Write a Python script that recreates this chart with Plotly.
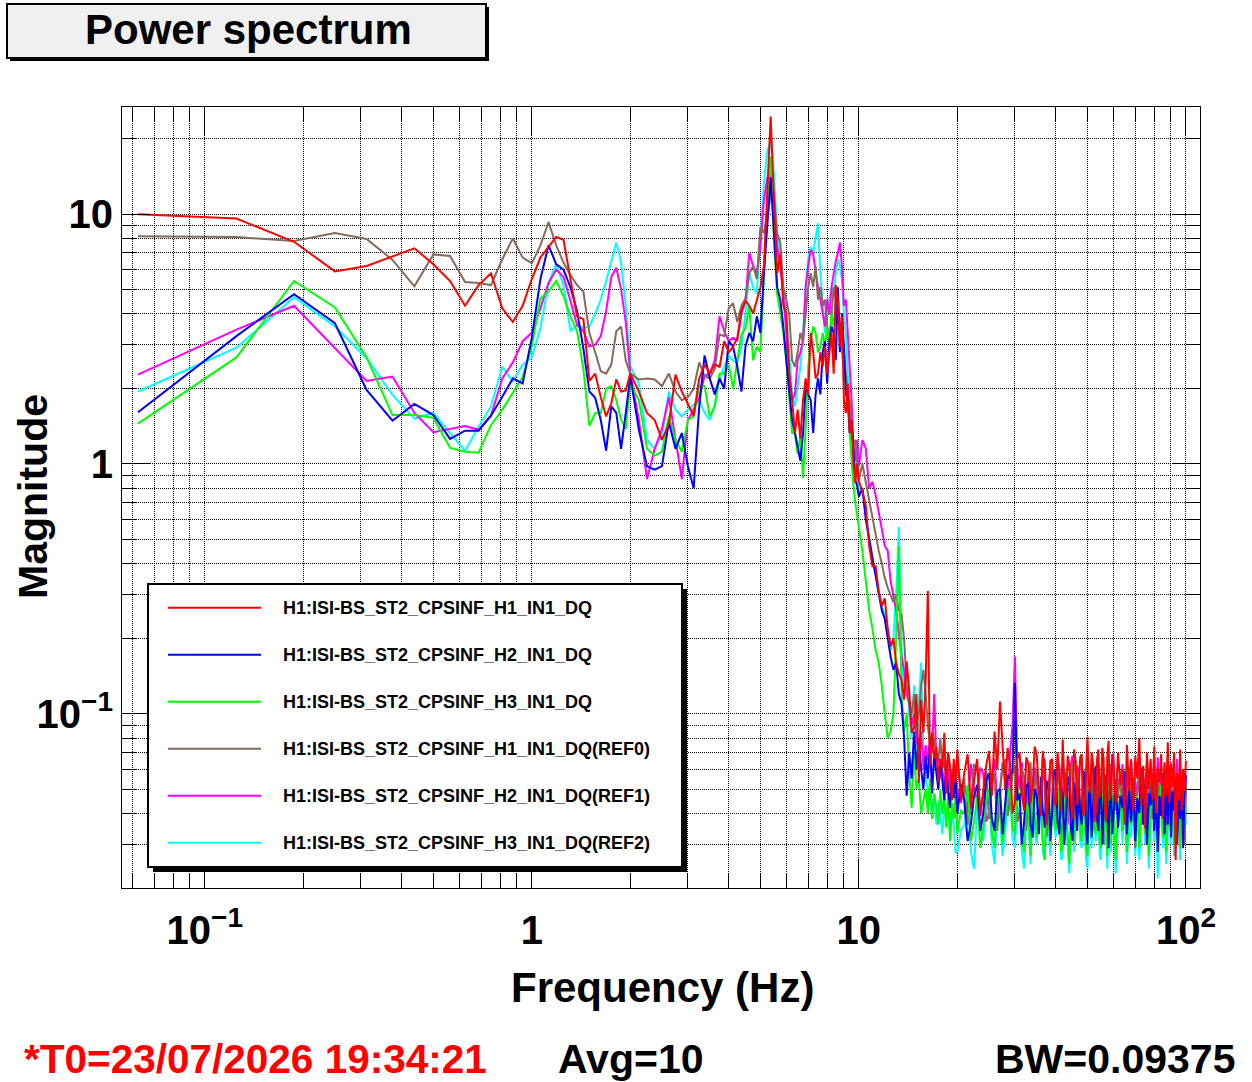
import plotly.graph_objects as go

# --- frequency bins (Hz) ---
FREQ_HZ = [
    0.0625, 0.125, 0.1875, 0.25, 0.3125, 0.375, 0.4375, 0.5, 0.5625, 0.625, 0.6875, 0.75,
    0.8125, 0.875, 0.9375, 1.0, 1.0625, 1.125, 1.1875, 1.25, 1.3125, 1.375, 1.4375, 1.5,
    1.5625, 1.625, 1.6875, 1.75, 1.8125, 1.875, 1.9375, 2.0,
    2.125, 2.25, 2.375, 2.5, 2.625, 2.75, 2.875, 3.0, 3.125, 3.25, 3.375, 3.5, 3.625, 3.75,
    3.875, 4.0, 4.125, 4.25, 4.375, 4.5,
    4.625, 4.75, 4.875, 5.0, 5.125, 5.25, 5.375, 5.5, 5.625, 5.75, 5.875, 6.0, 6.125, 6.25,
    6.375, 6.5, 6.625, 6.75, 6.875, 7.0, 7.125, 7.25, 7.375, 7.5, 7.625, 7.75, 7.875, 8.0,
    8.125, 8.25, 8.375, 8.5, 8.625, 8.75, 8.875, 9.0, 9.125, 9.25, 9.375, 9.5, 9.625, 9.75,
    9.875, 10.0,
    10.25, 10.5, 10.75, 11.0, 11.25, 11.5, 11.75, 12.0, 12.25, 12.5, 12.75, 13.0, 13.25, 13.5,
    13.75, 14.0, 14.25, 14.5, 14.75, 15.0, 15.25, 15.5, 15.75, 16.0, 16.25, 16.5, 16.75, 17.0,
    17.25, 17.5, 17.75, 18.0, 18.25, 18.5, 18.75, 19.0, 19.25, 19.5, 19.75, 20.0,
    20.5, 21, 21.5, 22, 22.5, 23, 23.5, 24, 24.5, 25, 25.5, 26, 26.5, 27, 27.5, 28, 28.5, 29,
    29.5, 30, 30.5, 31, 31.5, 32, 32.5, 33, 33.5, 34, 34.5, 35, 35.5, 36, 36.5, 37, 37.5, 38,
    38.5, 39, 39.5, 40, 40.5, 41, 41.5, 42, 42.5, 43, 43.5, 44, 44.5, 45, 45.5, 46, 46.5, 47,
    47.5, 48, 48.5, 49, 49.5, 50, 50.5, 51, 51.5, 52, 52.5, 53, 53.5, 54, 54.5, 55, 55.5, 56,
    56.5, 57, 57.5, 58, 58.5, 59, 59.5, 60,
    61, 62, 63, 64, 65, 66, 67, 68, 69, 70, 71, 72, 73, 74, 75, 76, 77, 78, 79, 80,
    81, 82, 83, 84, 85, 86, 87, 88, 89, 90, 91, 92, 93, 94, 95, 96, 97, 98, 99, 100,
]

# --- magnitudes ---
H1 = [
    10.0, 9.6, 7.75, 5.9, 6.2, 6.75, 7.3, 6.3, 5.4, 4.3, 5.2, 5.8, 4.2, 3.7, 4.3, 5.5,
    6.7, 7.4, 8.1, 7.9, 5.5, 3.9, 3.8, 2.15, 2.3, 1.85, 1.55, 1.75, 2.18, 1.95, 1.97, 2.3,
    1.95, 1.6, 1.5, 1.25, 1.45, 2.28, 1.95, 1.75, 1.56, 2.2, 2.5, 2.3, 2.5, 2.45, 3.1, 2.8,
    2.95, 3.2, 4.1, 4.5,
    4.3, 4.0, 4.55, 5.1, 6.2, 13.3, 24.6, 11.4, 5.8, 6.9, 4.3, 4.0, 2.3, 1.8, 1.33, 1.65,
    1.26, 1.8, 2.2, 1.9, 3.35, 2.8, 2.2, 2.3, 2.8, 2.45, 2.95, 2.3, 2.8, 3.35, 2.3, 5.2,
    4.5, 2.95, 3.9, 1.8, 1.6, 2.1, 1.33, 1.5, 1.0, 0.84, 1.0, 0.85,
    0.78, 0.68, 0.47, 0.39, 0.39, 0.31, 0.27, 0.29, 0.22, 0.186, 0.2, 0.16, 0.145, 0.137,
    0.114, 0.162, 0.125, 0.084, 0.088, 0.12, 0.053, 0.114, 0.084, 0.135, 0.31, 0.062, 0.084,
    0.066, 0.074, 0.053, 0.066, 0.061, 0.084, 0.048, 0.07, 0.061, 0.045, 0.066, 0.053, 0.072,
    0.045, 0.058, 0.069, 0.042, 0.054, 0.066, 0.039, 0.048, 0.062, 0.071, 0.047, 0.085,
    0.06, 0.112, 0.07, 0.05, 0.073, 0.062, 0.04, 0.044, 0.066, 0.07, 0.048, 0.041, 0.067,
    0.063, 0.044, 0.052, 0.074, 0.068, 0.049, 0.039, 0.071, 0.06, 0.036, 0.047, 0.065,
    0.066, 0.045, 0.043, 0.07, 0.058, 0.041, 0.079, 0.052, 0.046, 0.068, 0.062, 0.044,
    0.038, 0.072, 0.065, 0.043, 0.05, 0.067, 0.069, 0.039, 0.042, 0.064, 0.081, 0.053,
    0.048, 0.07, 0.063, 0.037, 0.04, 0.066, 0.072, 0.046, 0.051, 0.073, 0.066, 0.042,
    0.037, 0.068, 0.078, 0.045, 0.047, 0.069, 0.064,
    0.044, 0.07, 0.052, 0.06, 0.036, 0.075, 0.049, 0.065, 0.041, 0.068, 0.055, 0.08,
    0.043, 0.062, 0.035, 0.07, 0.05, 0.066, 0.045, 0.074, 0.04, 0.061, 0.053, 0.069,
    0.038, 0.064, 0.047, 0.077, 0.044, 0.063, 0.051, 0.07, 0.026, 0.058, 0.045, 0.072,
    0.041, 0.06, 0.049, 0.065,
]

H2 = [
    1.61, 3.25, 4.78, 3.66, 1.98, 1.49, 1.74, 1.57, 1.26, 1.36, 1.36, 1.56, 1.86, 2.2, 2.1,
    3.2, 5.5, 7.5, 6.3, 6.0, 5.1, 4.1, 2.9, 1.95, 1.84, 1.5, 1.13, 1.7, 1.6, 1.15, 1.6, 2.25,
    1.37, 0.98, 0.95, 0.98, 1.47, 1.15, 1.33, 0.98, 0.8, 1.7, 2.72, 2.2, 1.9, 2.2, 2.0, 3.1,
    2.95, 2.45, 1.95, 2.95,
    3.35, 3.1, 3.9, 3.35, 5.8, 8.9, 14.0, 8.4, 5.1, 4.55, 3.55, 2.6, 1.9, 1.5, 1.33, 1.17,
    1.03, 1.33, 2.05, 1.9, 1.8, 1.33, 1.9, 2.2, 1.9, 2.8, 3.1, 2.1, 3.1, 3.55, 3.35, 2.6,
    5.1, 2.8, 4.0, 2.95, 1.9, 1.8, 1.33, 1.5, 1.1, 0.86, 0.82, 0.74,
    0.8, 0.6, 0.5, 0.42, 0.36, 0.3, 0.26, 0.24, 0.2, 0.17, 0.15, 0.16, 0.12, 0.11, 0.08,
    0.047, 0.07, 0.055, 0.085, 0.06, 0.08, 0.06, 0.05, 0.068, 0.055, 0.075, 0.048, 0.07,
    0.058, 0.05, 0.065, 0.052, 0.045, 0.06, 0.05, 0.042, 0.058, 0.046, 0.055, 0.04,
    0.052, 0.045, 0.031, 0.036, 0.047, 0.052, 0.034, 0.04, 0.054, 0.058, 0.038, 0.034,
    0.049, 0.05, 0.033, 0.042, 0.057, 0.055, 0.06, 0.133, 0.045, 0.048, 0.03, 0.037,
    0.051, 0.053, 0.036, 0.032, 0.05, 0.047, 0.033, 0.056, 0.041, 0.035, 0.054, 0.05,
    0.031, 0.041, 0.058, 0.06, 0.037, 0.033, 0.052, 0.048, 0.03, 0.039, 0.056, 0.055,
    0.035, 0.031, 0.053, 0.046, 0.034, 0.052, 0.04, 0.036, 0.059, 0.058, 0.035, 0.03,
    0.048, 0.05, 0.032, 0.043, 0.057, 0.062, 0.038, 0.034, 0.053, 0.049, 0.03, 0.04,
    0.055, 0.057, 0.036, 0.029, 0.05, 0.051, 0.033, 0.038,
    0.054, 0.035, 0.047, 0.042, 0.059, 0.033, 0.05, 0.037, 0.055, 0.031, 0.046, 0.04,
    0.061, 0.036, 0.052, 0.03, 0.048, 0.043, 0.056, 0.034, 0.05, 0.028, 0.047, 0.039,
    0.058, 0.033, 0.051, 0.036, 0.062, 0.032, 0.049, 0.041, 0.055, 0.03, 0.046, 0.038,
    0.053, 0.029, 0.048, 0.057,
]

H3 = [
    1.45, 2.67, 5.4, 4.23, 2.67, 1.57, 1.57, 1.53, 1.16, 1.12, 1.11, 1.43, 1.65, 1.92, 2.23,
    2.96, 4.6, 4.9, 5.4, 4.7, 3.9, 3.4, 2.4, 1.42, 1.6, 1.6, 2.0, 2.05, 1.8, 1.5, 1.38, 2.1,
    1.8, 1.15, 1.08, 1.12, 1.55, 1.25, 1.12, 1.5, 1.55, 2.05, 2.05, 1.55, 1.7, 2.3, 2.3, 2.5,
    2.0, 2.6, 3.3, 3.5,
    4.3, 2.6, 2.95, 2.8, 6.2, 11.4, 17.0, 8.0, 4.8, 4.0, 3.35, 2.6, 1.9, 1.33, 1.33, 1.1,
    1.3, 0.88, 1.4, 2.45, 3.1, 3.55, 3.35, 2.8, 2.95, 3.35, 2.95, 3.55, 3.1, 4.0, 3.55, 4.55,
    4.8, 3.1, 2.8, 2.45, 2.15, 1.8, 1.33, 1.03, 0.82, 0.7, 0.62, 0.55,
    0.45, 0.34, 0.26, 0.22, 0.18, 0.16, 0.13, 0.1, 0.08, 0.085, 0.1, 0.2, 0.47, 0.12, 0.085,
    0.1, 0.058, 0.042, 0.07, 0.05, 0.055, 0.04, 0.045, 0.05, 0.04, 0.055, 0.038, 0.048,
    0.042, 0.036, 0.05, 0.04, 0.046, 0.035, 0.05, 0.031, 0.044, 0.038, 0.047, 0.033,
    0.041, 0.04, 0.052, 0.031, 0.037, 0.047, 0.029, 0.035, 0.045, 0.05, 0.034, 0.029,
    0.048, 0.043, 0.03, 0.037, 0.046, 0.052, 0.035, 0.033, 0.05, 0.045, 0.032, 0.028,
    0.044, 0.041, 0.027, 0.049, 0.038, 0.032, 0.051, 0.044, 0.031, 0.026, 0.046, 0.04,
    0.03, 0.051, 0.039, 0.034, 0.049, 0.046, 0.028, 0.03, 0.047, 0.042, 0.033, 0.025,
    0.04, 0.048, 0.03, 0.036, 0.05, 0.053, 0.035, 0.031, 0.047, 0.044, 0.029, 0.027,
    0.045, 0.041, 0.032, 0.05, 0.038, 0.033, 0.049, 0.046, 0.031, 0.029, 0.048, 0.043,
    0.034, 0.038, 0.027, 0.052, 0.041, 0.03, 0.047, 0.045,
    0.026, 0.04, 0.048, 0.034, 0.05, 0.028, 0.044, 0.036, 0.054, 0.031, 0.047, 0.029,
    0.042, 0.05, 0.033, 0.045, 0.027, 0.041, 0.049, 0.035, 0.046, 0.03, 0.043, 0.052,
    0.032, 0.044, 0.028, 0.04, 0.05, 0.034, 0.047, 0.03, 0.045, 0.038, 0.051, 0.029,
    0.043, 0.036, 0.048, 0.04,
]

H1_REF0 = [
    8.15, 8.1, 7.8, 8.4, 7.95, 6.56, 5.14, 6.9, 6.8, 5.35, 5.3, 5.2, 6.6, 8.0, 6.7, 6.35,
    7.5, 9.3, 7.5, 6.4, 5.7, 5.2, 4.9, 3.35, 2.8, 2.35, 2.3, 2.5, 3.4, 3.55, 2.6, 2.3,
    2.18, 2.2, 2.18, 2.05, 2.3, 1.95, 1.8, 1.85, 2.0, 2.55, 2.25, 2.2, 2.4, 3.3, 3.25, 4.2,
    4.4, 3.7, 4.3, 4.6,
    5.8, 6.2, 5.5, 8.9, 8.4, 10.0, 11.8, 11.8, 8.4, 7.7, 5.1, 4.55, 3.95, 2.6, 2.45, 2.8,
    3.35, 3.1, 3.95, 5.1, 5.8, 5.1, 6.2, 4.55, 5.1, 4.3, 4.55, 3.55, 3.1, 3.9, 5.1, 4.55,
    3.95, 3.55, 3.1, 2.8, 2.3, 1.9, 1.8, 1.33, 1.17, 1.25, 1.03, 0.86,
    1.0, 0.85, 0.7, 0.6, 0.52, 0.45, 0.4, 0.35, 0.32, 0.3, 0.28, 0.3, 0.26, 0.25, 0.2,
    0.13, 0.11, 0.1, 0.12, 0.09, 0.1, 0.13, 0.15, 0.12, 0.09, 0.075, 0.085, 0.078, 0.07,
    0.066, 0.08, 0.06, 0.065, 0.055, 0.07, 0.06, 0.052, 0.062, 0.058, 0.065,
    0.05, 0.055, 0.036, 0.042, 0.063, 0.06, 0.041, 0.047, 0.059, 0.038, 0.052, 0.058,
    0.034, 0.05, 0.061, 0.066, 0.039, 0.044, 0.057, 0.062, 0.037, 0.04, 0.06, 0.056,
    0.034, 0.048, 0.064, 0.035, 0.052, 0.059, 0.038, 0.045, 0.06, 0.053, 0.032, 0.039,
    0.058, 0.061, 0.04, 0.043, 0.062, 0.052, 0.031, 0.036, 0.055, 0.057, 0.038, 0.046,
    0.06, 0.064, 0.035, 0.041, 0.058, 0.055, 0.037, 0.033, 0.056, 0.05, 0.036, 0.06,
    0.042, 0.044, 0.061, 0.054, 0.034, 0.037, 0.059, 0.058, 0.04, 0.047, 0.062, 0.03,
    0.053, 0.056, 0.036, 0.043, 0.06, 0.063, 0.039, 0.04,
    0.051, 0.046, 0.059, 0.034, 0.053, 0.042, 0.061, 0.038, 0.055, 0.029, 0.049, 0.057,
    0.041, 0.052, 0.045, 0.062, 0.036, 0.054, 0.047, 0.06, 0.039, 0.058, 0.044, 0.05,
    0.035, 0.057, 0.046, 0.063, 0.041, 0.053, 0.048, 0.06, 0.031, 0.055, 0.043, 0.058,
    0.039, 0.05, 0.03, 0.052,
]

H2_REF1 = [
    2.28, 3.45, 4.3, 2.9, 2.15, 2.24, 1.6, 1.34, 1.38, 1.42, 1.37, 1.56, 2.2, 2.55, 3.1,
    3.35, 4.2, 5.3, 6.0, 5.6, 4.5, 3.6, 3.4, 2.95, 3.0, 3.25, 4.1, 5.6, 6.1, 5.0, 3.7, 2.3,
    1.5, 0.87, 1.15, 1.38, 1.85, 1.28, 0.87, 1.5, 1.65, 1.85, 2.25, 2.3, 2.6, 3.9, 3.4, 3.1,
    3.2, 3.1, 4.0, 4.5,
    7.0, 6.2, 5.8, 7.4, 11.4, 14.0, 14.5, 12.0, 7.4, 6.2, 4.8, 3.35, 2.3, 1.8, 1.9, 2.6,
    2.8, 3.1, 5.1, 6.2, 7.2, 6.9, 5.8, 5.1, 4.55, 3.95, 3.55, 4.55, 3.95, 5.1, 5.8, 6.5,
    7.0, 7.7, 6.2, 4.3, 4.55, 3.35, 2.45, 1.8, 1.17, 1.03, 1.25, 0.98,
    1.25, 1.15, 0.8, 0.85, 0.75, 0.63, 0.55, 0.47, 0.45, 0.34, 0.3, 0.26, 0.21, 0.17, 0.15,
    0.12, 0.11, 0.09, 0.1, 0.08, 0.07, 0.085, 0.06, 0.075, 0.065, 0.08, 0.07, 0.12, 0.065,
    0.07, 0.055, 0.06, 0.05, 0.065, 0.058, 0.05, 0.06, 0.048, 0.055, 0.05,
    0.044, 0.052, 0.04, 0.063, 0.05, 0.045, 0.061, 0.058, 0.037, 0.04, 0.057, 0.066,
    0.043, 0.048, 0.064, 0.056, 0.042, 0.07, 0.09, 0.17, 0.06, 0.05, 0.064, 0.043,
    0.039, 0.06, 0.052, 0.036, 0.061, 0.054, 0.04, 0.047, 0.067, 0.065, 0.044, 0.041,
    0.06, 0.057, 0.038, 0.05, 0.066, 0.062, 0.042, 0.038, 0.059, 0.055, 0.036, 0.045,
    0.063, 0.068, 0.047, 0.042, 0.062, 0.058, 0.04, 0.035, 0.056, 0.052, 0.037, 0.061,
    0.049, 0.044, 0.065, 0.057, 0.041, 0.039, 0.058, 0.064, 0.043, 0.048, 0.066, 0.053,
    0.038, 0.034, 0.055, 0.06, 0.044, 0.046, 0.063, 0.069,
    0.041, 0.055, 0.05, 0.063, 0.037, 0.058, 0.044, 0.066, 0.04, 0.054, 0.047, 0.061,
    0.036, 0.057, 0.049, 0.065, 0.042, 0.053, 0.038, 0.06, 0.046, 0.067, 0.04, 0.056,
    0.05, 0.062, 0.035, 0.058, 0.045, 0.064, 0.039, 0.055, 0.048, 0.066, 0.037, 0.059,
    0.043, 0.052, 0.034, 0.056,
]

H3_REF2 = [
    1.95, 2.92, 4.65, 3.55, 2.65, 1.89, 1.52, 1.6, 1.33, 1.13, 1.41, 1.7, 2.45, 2.14, 2.5,
    2.67, 3.5, 5.3, 6.3, 5.2, 3.4, 3.6, 3.5, 3.55, 4.0, 4.55, 5.4, 6.4, 7.7, 6.4, 4.3, 2.46,
    2.1, 1.25, 1.15, 1.3, 1.95, 1.65, 1.55, 1.65, 1.72, 1.8, 1.6, 1.5, 1.72, 2.2, 2.45, 2.7,
    2.6, 2.55, 2.95, 4.0,
    5.8, 5.1, 4.8, 8.0, 13.3, 18.0, 19.5, 14.5, 8.4, 6.6, 5.1, 3.75, 2.8, 1.9, 1.7, 2.05,
    2.45, 3.35, 5.1, 6.6, 7.4, 7.0, 8.0, 9.2, 5.8, 4.3, 3.35, 4.3, 4.55, 5.1, 4.8, 5.8,
    6.6, 6.2, 5.5, 3.95, 3.35, 2.3, 1.7, 1.5, 1.1, 0.98, 0.93, 0.76,
    0.8, 0.62, 0.5, 0.42, 0.36, 0.3, 0.27, 0.25, 0.22, 0.18, 0.2, 0.3, 0.56, 0.18, 0.12,
    0.15, 0.1, 0.08, 0.13, 0.07, 0.11, 0.16, 0.07, 0.055, 0.05, 0.045, 0.04, 0.048, 0.036,
    0.045, 0.04, 0.033, 0.042, 0.038, 0.045, 0.032, 0.04, 0.036, 0.028, 0.028,
    0.034, 0.036, 0.045, 0.028, 0.024, 0.042, 0.035, 0.031, 0.044, 0.046, 0.03, 0.025,
    0.041, 0.039, 0.027, 0.033, 0.045, 0.047, 0.032, 0.029, 0.043, 0.04, 0.028, 0.024,
    0.04, 0.037, 0.025, 0.044, 0.034, 0.03, 0.046, 0.041, 0.028, 0.026, 0.043, 0.035,
    0.027, 0.048, 0.036, 0.032, 0.045, 0.043, 0.026, 0.027, 0.042, 0.038, 0.029, 0.023,
    0.037, 0.045, 0.028, 0.034, 0.047, 0.05, 0.031, 0.029, 0.044, 0.04, 0.026, 0.024,
    0.041, 0.037, 0.029, 0.046, 0.035, 0.031, 0.045, 0.042, 0.027, 0.026, 0.043, 0.039,
    0.03, 0.033, 0.024, 0.048, 0.036, 0.028, 0.044, 0.041,
    0.023, 0.036, 0.044, 0.03, 0.047, 0.025, 0.04, 0.032, 0.049, 0.027, 0.043, 0.026,
    0.038, 0.045, 0.03, 0.042, 0.024, 0.037, 0.046, 0.031, 0.041, 0.022, 0.039, 0.048,
    0.029, 0.04, 0.025, 0.036, 0.045, 0.03, 0.043, 0.027, 0.041, 0.033, 0.047, 0.026,
    0.038, 0.032, 0.044, 0.036,
]

# legend order (top to bottom)
SERIES = [
    ("H1:ISI-BS_ST2_CPSINF_H1_IN1_DQ", H1, "#ff0000"),
    ("H1:ISI-BS_ST2_CPSINF_H2_IN1_DQ", H2, "#0000ff"),
    ("H1:ISI-BS_ST2_CPSINF_H3_IN1_DQ", H3, "#00ff00"),
    ("H1:ISI-BS_ST2_CPSINF_H1_IN1_DQ(REF0)", H1_REF0, "#866a5c"),
    ("H1:ISI-BS_ST2_CPSINF_H2_IN1_DQ(REF1)", H2_REF1, "#ff00ff"),
    ("H1:ISI-BS_ST2_CPSINF_H3_IN1_DQ(REF2)", H3_REF2, "#00ffff"),
]

X_TICKS = [0.1, 1, 10, 100]
X_TICK_TEXT = ["10<sup>\u22121</sup>", "1", "10", "10<sup>2</sup>"]
X_MINOR = [0.06, 0.07, 0.08, 0.09, 0.2, 0.3, 0.4, 0.5, 0.6, 0.7, 0.8, 0.9,
           2, 3, 4, 5, 6, 7, 8, 9, 20, 30, 40, 50, 60, 70, 80, 90]
Y_TICKS = [0.1, 1, 10]
Y_TICK_TEXT = ["10<sup>\u22121</sup>", "1", "10"]
Y_MINOR = [0.02, 0.03, 0.04, 0.05, 0.06, 0.07, 0.08, 0.09, 0.2, 0.3, 0.4, 0.5, 0.6,
           0.7, 0.8, 0.9, 2, 3, 4, 5, 6, 7, 8, 9, 20]

for _, vals, _ in SERIES:
    assert len(vals) == len(FREQ_HZ), len(vals)

# canvas geometry (pixels); page body margin is removed in write_html below
W, H = 1252, 1082
L, R, T, B = 122, 1200, 107, 888
FONT = "Liberation Sans, Arial, Helvetica, sans-serif"
DOTS = "1px,1px"


def xp(px):
    return (px - L) / (R - L)


def yp(py):
    return (B - py) / (B - T)


fig = go.Figure()
for name, vals, color in reversed(SERIES):
    fig.add_trace(go.Scatter(x=FREQ_HZ, y=vals, mode="lines", name=name,
                             line=dict(color=color, width=2), showlegend=False))

axis_common = dict(
    type="log", tickmode="array", ticks="inside", ticklen=28, tickwidth=1,
    tickcolor="black", showline=True, linecolor="black", linewidth=1,
    mirror="allticks", showgrid=True, gridcolor="black", griddash=DOTS, gridwidth=1,
    zeroline=False, tickfont=dict(family=FONT, size=40, color="black", weight="bold"),
)
minor_common = dict(tickmode="array", ticks="inside", ticklen=14, tickcolor="black",
                    showgrid=True, gridcolor="black", griddash=DOTS, gridwidth=1)
fig.update_xaxes(range=[-1.253, 2.043], tickvals=X_TICKS, ticktext=X_TICK_TEXT,
                 ticklabelstandoff=7, minor=dict(tickvals=X_MINOR, **minor_common),
                 **axis_common)
fig.update_yaxes(range=[-1.697, 1.4288], tickvals=Y_TICKS, ticktext=Y_TICK_TEXT,
                 minor=dict(tickvals=Y_MINOR, **minor_common),
                 **axis_common)

shapes = []
ann = []


def label(text, x, y, size, color="black", xanchor="center", **kw):
    ann.append(dict(text=text, x=xp(x), y=yp(y), xref="paper", yref="paper",
                    showarrow=False, xanchor=xanchor, yanchor="middle",
                    font=dict(family=FONT, size=size, color=color, weight="bold"), **kw))


def box(x0, y0, x1, y1, fill, border):
    shapes.append(dict(type="rect", xref="paper", yref="paper", x0=xp(x0), x1=xp(x1),
                       y0=yp(y1), y1=yp(y0), fillcolor=fill,
                       line=dict(color="black", width=border)))


# title box with shadow
box(10, 7, 489, 61, "black", 0)
box(7, 4, 486, 58, "#f0f0f0", 2)
label("Power spectrum", 248, 30, 42)

# legend box with shadow
box(153, 589, 687, 872, "black", 0)
box(148, 584, 682, 867, "white", 2)
for i, (name, _, color) in enumerate(SERIES):
    row_y = 607.7 + 47 * i
    shapes.append(dict(type="line", xref="paper", yref="paper", x0=xp(168), x1=xp(261),
                       y0=yp(row_y), y1=yp(row_y), line=dict(color=color, width=2)))
    label(name, 281, row_y, 18, xanchor="left")

# axis titles
label("Magnitude", 33, 497, 41, textangle=-90)
label("Frequency (Hz)", 662, 987, 42)

# footer
label("*T0=23/07/2026 19:34:21", 22, 1059, 40.5, color="#ff0000", xanchor="left")
label("Avg=10", 630, 1059, 41)
label("BW=0.09375", 1237, 1059, 41, xanchor="right")

fig.update_layout(
    width=W, height=H,
    margin=dict(l=L, r=W - R, t=T, b=H - B),
    paper_bgcolor="white", plot_bgcolor="white",
    showlegend=False,
    font=dict(family=FONT, color="black"),
    shapes=shapes, annotations=ann,
)

fig.write_html("out.html", config={"displayModeBar": False},
               post_script="document.body.style.margin = '0px';")
